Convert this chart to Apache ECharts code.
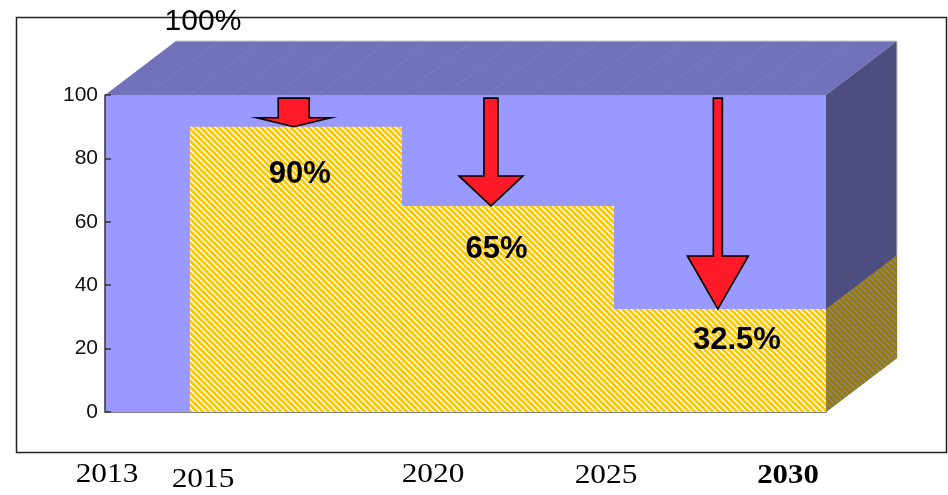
<!DOCTYPE html>
<html>
<head>
<meta charset="utf-8">
<script src="https://cdn.jsdelivr.net/npm/echarts@6/dist/echarts.min.js"></script>
<style>
  html, body { margin: 0; padding: 0; background: #ffffff; }
  #chart { width: 948px; height: 495px; }
</style>
</head>
<body>
<div id="chart"></div>
<script>
// Timeline bounds and the level of the starting year
const yearStart = 2013;
const yearEnd = 2030;
const baseLevel = 100;
const baseLabel = '100%';

// Remaining share per period
const stepStarts = [2015, 2020, 2025];
const stepEnds = [2020, 2025, 2030];
const shares = [90, 65, 32.5];
const shareLabels = ['90%', '65%', '32.5%'];
// Anchor points of the share labels (year, value)
const labelYears = [2017.59, 2022.23, 2027.9];
const labelValues = [74.9, 51.4, 22.7];

// Reduction arrows: position on the time axis, start value, end value
const arrowYears = [2017.45, 2022.1, 2027.45];
const arrowFrom = [99, 99, 99];
const arrowTo = shares;

// Axis ticks and the year captions under the chart
const yTicks = [0, 20, 40, 60, 80, 100];
const yearCaptions = ['2013', '2015', '2020', '2025', '2030'];

// ---- styling ----
const DEPTH = [71, -54];            // pseudo 3D depth offset in px
const FRONT = '#9999ff';
const TOP = '#7272ba';
const SIDE = '#4d4d80';
// arrow geometry: [shaft half width, head half width, head height]
const arrowShapes = [[15.5, 37, 9], [7, 32, 30], [4.5, 30.5, 53]];

function stripePattern(colors) {
  const c = document.createElement('canvas');
  c.width = 6; c.height = 6;
  const ctx = c.getContext('2d');
  for (let x = 0; x < 6; x++) {
    for (let y = 0; y < 6; y++) {
      const d = ((x - y) % 6 + 6) % 6;
      ctx.fillStyle = colors[d];
      ctx.fillRect(x, y, 1, 1);
    }
  }
  return { image: c, repeat: 'repeat' };
}
const yellowHatch = stripePattern(['#ffc800', '#ffc800', '#ffc800', '#ffd84a', '#ffffff', '#ffeb99']);
const darkHatch = stripePattern(['#9a7a06', '#9a7a06', '#9a7a06', '#8e8350', '#838383', '#8c8462']);

const chart = echarts.init(document.getElementById('chart'), null, { renderer: 'canvas' });

const yearLines = [];
for (let y = yearStart + 1; y < yearEnd; y++) yearLines.push(y);

const captionFont = '27px "Liberation Serif"';
function caption(text, x, y, font, sx) {
  return { type: 'text', x: x, y: y, scaleX: sx, z: 1,
    style: { text: text, font: font, fill: '#000', align: 'center', verticalAlign: 'middle' } };
}

const option = {
  animation: false,
  backgroundColor: '#ffffff',
  grid: { left: 105, right: 122, top: 95, bottom: 83 },
  xAxis: {
    type: 'value', min: yearStart, max: yearEnd,
    axisLine: { show: true, lineStyle: { color: '#808080', width: 1 } },
    axisTick: { show: false }, axisLabel: { show: false }, splitLine: { show: false },
    z: 10
  },
  yAxis: {
    type: 'value', min: yTicks[0], max: yTicks[yTicks.length - 1], interval: yTicks[1] - yTicks[0],
    axisLine: { show: true, lineStyle: { color: '#333333', width: 1.5 } },
    axisTick: { show: true, inside: true, length: 6, lineStyle: { color: '#333333', width: 1.5 } },
    axisLabel: { color: '#111111', fontFamily: 'Liberation Sans', fontSize: 21, margin: 7, padding: [4, 0, 0, 0] },
    splitLine: { show: false },
    z: 10
  },
  graphic: [
    { type: 'rect', z: 0, shape: { x: 16.5, y: 17.5, width: 930, height: 435 },
      style: { fill: 'none', stroke: '#222222', lineWidth: 1.5 } },
    caption(yearCaptions[0], 107, 475, captionFont, 1.16),
    caption(yearCaptions[1], 203, 480, captionFont, 1.16),
    caption(yearCaptions[2], 433, 475, captionFont, 1.16),
    caption(yearCaptions[3], 606, 476, captionFont, 1.16),
    caption(yearCaptions[4], 788, 476, 'bold 28px "Liberation Serif"', 1.1)
  ],
  series: [
    {
      // the full 100% block with its top and side faces
      type: 'custom', z: 2,
      data: [[yearStart, yearEnd, baseLevel]],
      renderItem: function (params, api) {
        const p0 = api.coord([api.value(0), 0]);
        const p1 = api.coord([api.value(1), api.value(2)]);
        const dx = DEPTH[0], dy = DEPTH[1];
        const children = [
          { type: 'rect', shape: { x: p0[0], y: p1[1], width: p1[0] - p0[0], height: p0[1] - p1[1] }, style: { fill: FRONT } },
          { type: 'polygon', shape: { points: [[p0[0], p1[1]], [p1[0], p1[1]], [p1[0] + dx, p1[1] + dy], [p0[0] + dx, p1[1] + dy]] }, style: { fill: TOP } },
          { type: 'polygon', shape: { points: [[p1[0], p1[1]], [p1[0] + dx, p1[1] + dy], [p1[0] + dx, p0[1] + dy], [p1[0], p0[1]]] }, style: { fill: SIDE } }
        ];
        yearLines.forEach(function (yr) {
          const q = api.coord([yr, api.value(2)]);
          children.push({ type: 'line', shape: { x1: q[0], y1: q[1], x2: q[0] + dx, y2: q[1] + dy }, style: { stroke: 'rgba(150,150,215,0.45)', lineWidth: 0.6 } });
        });
        children.push({ type: 'polyline', shape: { points: [[p0[0] + dx, p1[1] + dy], [p1[0] + dx, p1[1] + dy], [p1[0] + dx, p0[1] + dy]] }, style: { stroke: '#c8c8c8', lineWidth: 1, fill: 'none' } });
        children.push({ type: 'text', style: { text: baseLabel, x: api.coord([2015.31, 0])[0], y: 22, font: '30px "Liberation Sans"', fill: '#000', align: 'center', verticalAlign: 'middle' }, z2: 20 });
        return { type: 'group', children: children };
      }
    },
    {
      // remaining share per period, hatched
      type: 'custom', z: 3,
      data: stepStarts.map(function (s, i) { return [s, stepEnds[i], shares[i]]; }),
      renderItem: function (params, api) {
        const a = api.coord([api.value(0), 0]);
        const b = api.coord([api.value(1), api.value(2)]);
        const children = [
          { type: 'rect', shape: { x: a[0], y: b[1], width: b[0] - a[0], height: a[1] - b[1] }, style: { fill: yellowHatch } }
        ];
        if (params.dataIndex === stepStarts.length - 1) {
          const dx = DEPTH[0], dy = DEPTH[1];
          children.push({ type: 'polygon', shape: { points: [[b[0], b[1]], [b[0] + dx, b[1] + dy], [b[0] + dx, a[1] + dy], [b[0], a[1]]] }, style: { fill: darkHatch } });
        }
        return { type: 'group', children: children };
      }
    },
    {
      // reduction arrows
      type: 'custom', z: 4,
      data: arrowYears.map(function (y, i) { return [y, arrowFrom[i], arrowTo[i]]; }),
      renderItem: function (params, api) {
        const top = api.coord([api.value(0), api.value(1)]);
        const tip = api.coord([api.value(0), api.value(2)]);
        const s = arrowShapes[params.dataIndex];
        const cx = top[0], sw = s[0], hw = s[1], hh = s[2];
        const hy = tip[1] - hh;
        return {
          type: 'polygon',
          shape: { points: [[cx - sw, top[1]], [cx + sw, top[1]], [cx + sw, hy], [cx + hw, hy], [cx, tip[1]], [cx - hw, hy], [cx - sw, hy]] },
          style: { fill: '#ff1a2a', stroke: '#000000', lineWidth: 1.6, lineJoin: 'miter' }
        };
      }
    },
    {
      // share labels
      type: 'custom', z: 5,
      data: labelYears.map(function (y, i) { return [y, labelValues[i]]; }),
      renderItem: function (params, api) {
        const p = api.coord([api.value(0), api.value(1)]);
        return {
          type: 'text',
          style: { text: shareLabels[params.dataIndex], x: p[0], y: p[1], font: 'bold 31px "Liberation Sans"', fill: '#000', align: 'center', verticalAlign: 'middle' }
        };
      }
    }
  ]
};
chart.setOption(option);
</script>
</body>
</html>
